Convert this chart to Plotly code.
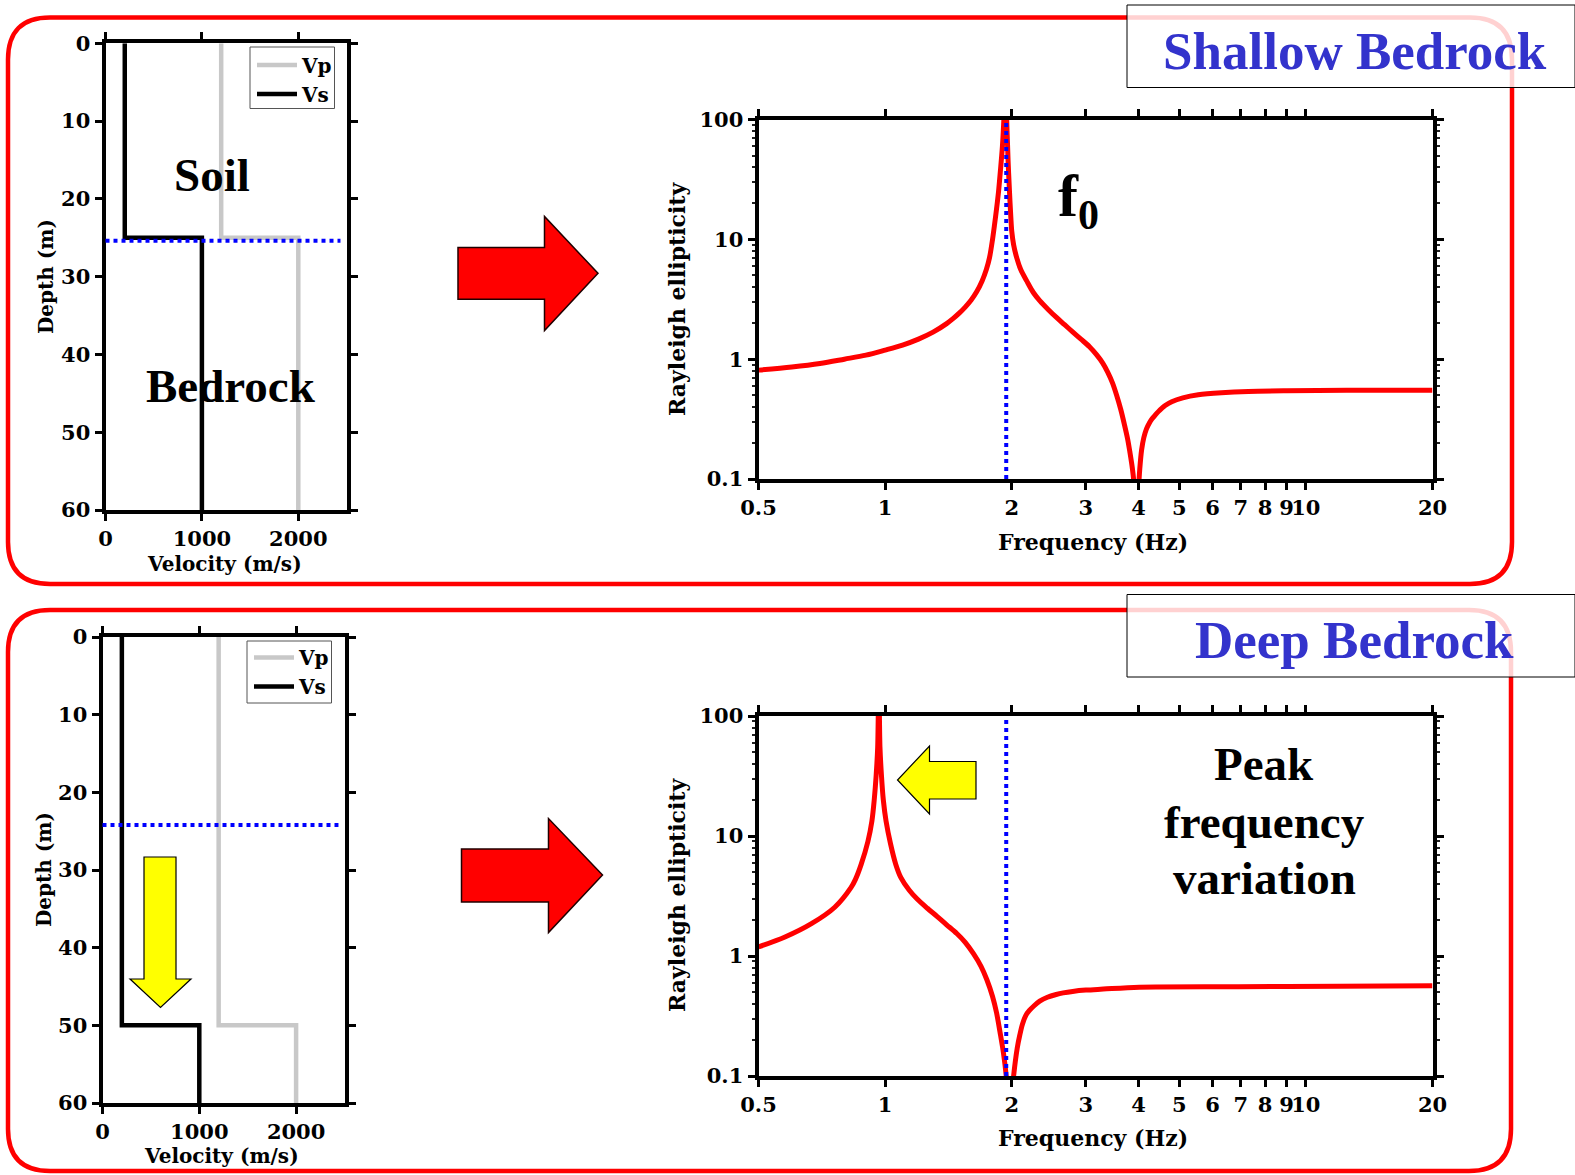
import plotly.graph_objects as go

W, H = 1575, 1175

# ---------------- data ----------------
depth_top = [0, 25, 25, 60]
vs_top = [200, 200, 1000, 1000]
vp_top = [1200, 1200, 2000, 2000]
depth_bot = [0, 50, 50, 60]
vs_bot = [200, 200, 1000, 1000]
vp_bot = [1200, 1200, 2000, 2000]
interface_top = 25.4
interface_bot = 24.2
f0_marker = 1.94

freq_top = [0.5, 0.6, 0.7, 0.8, 0.9, 1.0, 1.1, 1.2, 1.3, 1.4, 1.45, 1.5, 1.55, 1.6, 1.65,
            1.7, 1.74, 1.77, 1.8, 1.82, 1.84, 1.86, 1.88, 1.9, 1.915, 1.93,
            1.945, 1.96, 1.975, 1.99, 2.0, 2.02, 2.055, 2.1, 2.17, 2.25, 2.33, 2.44, 2.55,
            2.67, 2.79, 2.92, 3.06, 3.18, 3.29, 3.38, 3.47, 3.55, 3.63, 3.7, 3.77, 3.82,
            3.87, 3.9, 3.955, 4.0, 4.03, 4.07, 4.12, 4.18, 4.25, 4.31, 4.38, 4.46, 4.55,
            4.63, 4.8, 5.1, 5.55, 6.3, 7.3, 9.0, 12.5, 16.0, 20.0]
ell_top = [0.81, 0.86, 0.92, 1.0, 1.08, 1.19, 1.31, 1.47, 1.68, 1.98, 2.18, 2.42, 2.72, 3.1, 3.65,
           4.5, 5.6, 7.0, 10.0, 13.3, 18.0, 25.0, 38.0, 60.0, 100.0, 200.0,
           100.0, 45.0, 25.0, 15.0, 11.6, 9.0, 7.0, 5.6, 4.5, 3.6, 3.08, 2.6, 2.24,
           1.94, 1.69, 1.47, 1.27, 1.09, 0.927, 0.78, 0.634, 0.5, 0.382, 0.29, 0.216, 0.165,
           0.122, 0.095, 0.03, 0.08, 0.122, 0.175, 0.222, 0.262, 0.295, 0.318, 0.34, 0.365, 0.39,
           0.41, 0.442, 0.476, 0.505, 0.525, 0.538, 0.545, 0.55, 0.55, 0.55]

freq_bot = [0.5, 0.578, 0.668, 0.759, 0.83, 0.85, 0.877, 0.91, 0.93, 0.942, 0.952, 0.96,
            0.966, 0.972, 0.98, 0.99, 1.005, 1.03, 1.06, 1.09, 1.14, 1.19, 1.26, 1.33, 1.4,
            1.48, 1.55, 1.62, 1.69, 1.745, 1.8, 1.84, 1.88, 1.91, 1.94, 1.975, 2.02, 2.06,
            2.09, 2.12, 2.16, 2.2, 2.26, 2.33, 2.43, 2.55, 2.65, 2.79, 3.0, 3.3, 4.02, 6.9,
            12.0, 20.0]
ell_bot = [1.19, 1.44, 1.86, 2.55, 3.73, 4.35, 5.8, 9.0, 13.3, 20.0, 32.0, 55.0,
           200.0, 55.0, 32.0, 20.0, 13.3, 8.6, 5.8, 4.5, 3.55, 3.0, 2.5, 2.13, 1.82,
           1.54, 1.3, 1.05, 0.82, 0.634, 0.46, 0.336, 0.22, 0.157, 0.1, 0.04, 0.1, 0.17,
           0.22, 0.27, 0.32, 0.35, 0.385, 0.42, 0.453, 0.478, 0.493, 0.507, 0.52, 0.53, 0.55, 0.555,
           0.56, 0.565]

vel_ticks = [0, 1000, 2000]
vel_range = [0, 2500]
depth_ticks = [0, 10, 20, 30, 40, 50, 60]
freq_ticks = [0.5, 1, 2, 3, 4, 5, 6, 7, 8, 9, 10, 20]
freq_labels = ['0.5', '1', '2', '3', '4', '5', '6', '7', '8', '9', '10', '20']
ell_ticks = [0.1, 1, 10, 100]
ell_labels = ['0.1', '1', '10', '100']
ell_minor = [m * d for d in (0.1, 1, 10) for m in range(2, 10)]

# ---------------- helpers ----------------
def px(x):
    return x / W

def py(y):
    return 1 - y / H

def dom_x(a, b):
    return [px(a), px(b)]

def dom_y(top, bottom):
    return [py(bottom), py(top)]

def poly_path(pts):
    return 'M ' + ' L '.join(f'{px(x):.5f},{py(y):.5f}' for x, y in pts) + ' Z'

def round_rect(x0, y0, x1, y1, r):
    P = lambda x, y: f'{px(x):.5f},{py(y):.5f}'
    return (f'M {P(x0 + r, y0)} L {P(x1 - r, y0)} Q {P(x1, y0)} {P(x1, y0 + r)} '
            f'L {P(x1, y1 - r)} Q {P(x1, y1)} {P(x1 - r, y1)} '
            f'L {P(x0 + r, y1)} Q {P(x0, y1)} {P(x0, y1 - r)} '
            f'L {P(x0, y0 + r)} Q {P(x0, y0)} {P(x0 + r, y0)} Z')

TICKFONT = dict(family='DejaVu Serif', size=21, color='black', weight='bold')
AXTITLE = dict(family='DejaVu Serif', size=22, color='black', weight='bold')
AXTITLE_V = dict(family='DejaVu Serif', size=20, color='black', weight='bold')
BIG = dict(family='Liberation Serif', size=47, color='black', weight='bold')

fig = go.Figure()

# ---------------- velocity profiles ----------------
for (dep, vs, vp, xa, ya, leg) in [(depth_top, vs_top, vp_top, 'x', 'y', 'legend'),
                                    (depth_bot, vs_bot, vp_bot, 'x3', 'y3', 'legend2')]:
    fig.add_trace(go.Scatter(x=vp, y=dep, mode='lines', name='Vp',
                             line=dict(color='#c8c8c8', width=4.5),
                             xaxis=xa, yaxis=ya, legend=leg))
    fig.add_trace(go.Scatter(x=vs, y=dep, mode='lines', name='Vs',
                             line=dict(color='black', width=4.5),
                             xaxis=xa, yaxis=ya, legend=leg))

# ---------------- ellipticity curves ----------------
for (fr, el, xa, ya) in [(freq_top, ell_top, 'x2', 'y2'), (freq_bot, ell_bot, 'x4', 'y4')]:
    fig.add_trace(go.Scatter(x=fr, y=el, mode='lines', showlegend=False,
                             line=dict(color='#ff0000', width=5, shape='spline', smoothing=0.9),
                             xaxis=xa, yaxis=ya))
    fig.add_trace(go.Scatter(x=[f0_marker, f0_marker], y=[ell_ticks[0], ell_ticks[-1]],
                             mode='lines', showlegend=False,
                             line=dict(color='#0000ff', width=4, dash='dot'),
                             xaxis=xa, yaxis=ya))

# ---------------- axes ----------------
common = dict(showline=True, linewidth=4, linecolor='black', mirror='allticks',
              ticks='outside', ticklen=7, tickwidth=3, tickcolor='black',
              showgrid=False, zeroline=False, tickfont=TICKFONT, tickangle=0,
              automargin=False)

fig.update_layout(
    xaxis=dict(domain=dom_x(105.5, 346.5), range=vel_range, tickvals=vel_ticks,
               anchor='y', **common),
    yaxis=dict(domain=dom_y(43.2, 510), range=[60, 0], tickvals=depth_ticks,
               anchor='x', **common),
    xaxis2=dict(domain=dom_x(758.5, 1432.5), type='log', range=[-0.30103, 1.30103],
                tickvals=freq_ticks, ticktext=freq_labels, anchor='y2', **common),
    yaxis2=dict(domain=dom_y(119.5, 479), type='log', range=[-1, 2],
                tickvals=ell_ticks, ticktext=ell_labels, anchor='x2',
                minor=dict(ticks='outside', ticklen=3, tickwidth=1.5, tickcolor='#222',
                           tickvals=ell_minor), **common),
    xaxis3=dict(domain=dom_x(102.5, 344.5), range=vel_range, tickvals=vel_ticks,
                anchor='y3', **common),
    yaxis3=dict(domain=dom_y(637, 1103), range=[60, 0], tickvals=depth_ticks,
                anchor='x3', **common),
    xaxis4=dict(domain=dom_x(758.5, 1432.5), type='log', range=[-0.30103, 1.30103],
                tickvals=freq_ticks, ticktext=freq_labels, anchor='y4', **common),
    yaxis4=dict(domain=dom_y(716, 1076), type='log', range=[-1, 2],
                tickvals=ell_ticks, ticktext=ell_labels, anchor='x4',
                minor=dict(ticks='outside', ticklen=3, tickwidth=1.5, tickcolor='#222',
                           tickvals=ell_minor), **common),
)

LEG = dict(bgcolor='rgba(0,0,0,0)', borderwidth=0,
           font=dict(family='DejaVu Serif', size=20, color='black', weight='bold'),
           xanchor='left', yanchor='top', tracegroupgap=0, itemwidth=40)
fig.update_layout(
    legend=dict(x=px(252), y=py(45.5), **LEG),
    legend2=dict(x=px(249), y=py(638), **LEG),
)

# ---------------- shapes ----------------
shapes = []
RED = '#ff0000'
shapes.append(dict(type='path', xref='paper', yref='paper', layer='below',
                   path=round_rect(8, 17.5, 1512, 584, 42),
                   line=dict(color=RED, width=4.5)))
shapes.append(dict(type='path', xref='paper', yref='paper', layer='below',
                   path=round_rect(8, 610, 1511, 1171, 42),
                   line=dict(color=RED, width=4.5)))
shapes.append(dict(type='line', xref='x domain', yref='y', x0=0, x1=0.975,
                   y0=interface_top, y1=interface_top,
                   line=dict(color='#0000ff', width=4, dash='dot')))
shapes.append(dict(type='line', xref='x3 domain', yref='y3', x0=0, x1=0.975,
                   y0=interface_bot, y1=interface_bot,
                   line=dict(color='#0000ff', width=4, dash='dot')))
# legend boxes
shapes.append(dict(type='rect', xref='paper', yref='paper', layer='above',
                   x0=px(250), x1=px(334.5), y0=py(108.5), y1=py(47),
                   fillcolor='white', line=dict(color='#555', width=1)))
shapes.append(dict(type='rect', xref='paper', yref='paper', layer='above',
                   x0=px(247), x1=px(331.5), y0=py(703), y1=py(641),
                   fillcolor='white', line=dict(color='#555', width=1)))
# red arrows
shapes.append(dict(type='path', xref='paper', yref='paper', layer='above',
                   path=poly_path([(458, 247.5), (544.5, 247.5), (544.5, 216.5), (598, 273.3),
                                   (544.5, 330.5), (544.5, 299.3), (458, 299.3)]),
                   fillcolor=RED, line=dict(color='#200000', width=1.5)))
shapes.append(dict(type='path', xref='paper', yref='paper', layer='above',
                   path=poly_path([(461.5, 849), (548.5, 849), (548.5, 818.5), (602.5, 875),
                                   (548.5, 932.5), (548.5, 902), (461.5, 902)]),
                   fillcolor=RED, line=dict(color='#200000', width=1.5)))
# yellow arrows
shapes.append(dict(type='path', xref='paper', yref='paper', layer='above',
                   path=poly_path([(144, 857), (176, 857), (176, 979), (191, 979),
                                   (160.5, 1007.5), (130, 979), (144, 979)]),
                   fillcolor='#ffff00', line=dict(color='black', width=1.2)))
shapes.append(dict(type='path', xref='paper', yref='paper', layer='above',
                   path=poly_path([(976, 761.5), (976, 799), (929.5, 799), (929.5, 814),
                                   (897.5, 780), (929.5, 746), (929.5, 761.5)]),
                   fillcolor='#ffff00', line=dict(color='black', width=1.2)))
# title boxes
shapes.append(dict(type='rect', xref='paper', yref='paper', layer='above',
                   x0=px(1127), x1=1.0, y0=py(87.5), y1=py(5),
                   fillcolor='rgba(255,255,255,0.82)', line=dict(color='black', width=1)))
shapes.append(dict(type='rect', xref='paper', yref='paper', layer='above',
                   x0=px(1127), x1=1.0, y0=py(677), y1=py(594.5),
                   fillcolor='rgba(255,255,255,0.82)', line=dict(color='black', width=1)))
fig.update_layout(shapes=shapes)

# ---------------- annotations ----------------
ann = []
def A(text, x, y, font, angle=0, xanchor='center'):
    ann.append(dict(text=text, x=px(x), y=py(y), xref='paper', yref='paper',
                    showarrow=False, font=font, textangle=angle,
                    xanchor=xanchor, yanchor='middle'))

A('Depth (m)', 46, 277, AXTITLE_V, -90)
A('Depth (m)', 44, 870, AXTITLE_V, -90)
A('Velocity (m/s)', 224, 564, AXTITLE_V)
A('Velocity (m/s)', 221, 1156, AXTITLE_V)
A('Rayleigh ellipticity', 677, 299, AXTITLE, -90)
A('Rayleigh ellipticity', 677, 895, AXTITLE, -90)
A('Frequency (Hz)', 1093, 542, AXTITLE)
A('Frequency (Hz)', 1093, 1138, AXTITLE)

A('Soil', 212, 175, BIG)
A('Bedrock', 231, 386, BIG)
A('f<sub>0</sub>', 1078, 200, dict(family='Liberation Serif', size=60, color='black', weight='bold'))
A('Peak', 1264, 764, BIG)
A('frequency', 1264, 822, BIG)
A('variation', 1264, 878, BIG)

TITLE = dict(family='Liberation Serif', size=53, color='#3333cc', weight='bold')
A('Shallow Bedrock', 1355, 51, TITLE)
A('Deep Bedrock', 1354, 640, TITLE)

fig.update_layout(annotations=ann)

fig.update_layout(width=W, height=H, autosize=False,
                  margin=dict(l=0, r=0, t=0, b=0, pad=0, autoexpand=False),
                  paper_bgcolor='white', plot_bgcolor='white',
                  showlegend=True)

fig.write_html('out.html', config={'displayModeBar': False},
               post_script="document.body.style.margin='0px';")
